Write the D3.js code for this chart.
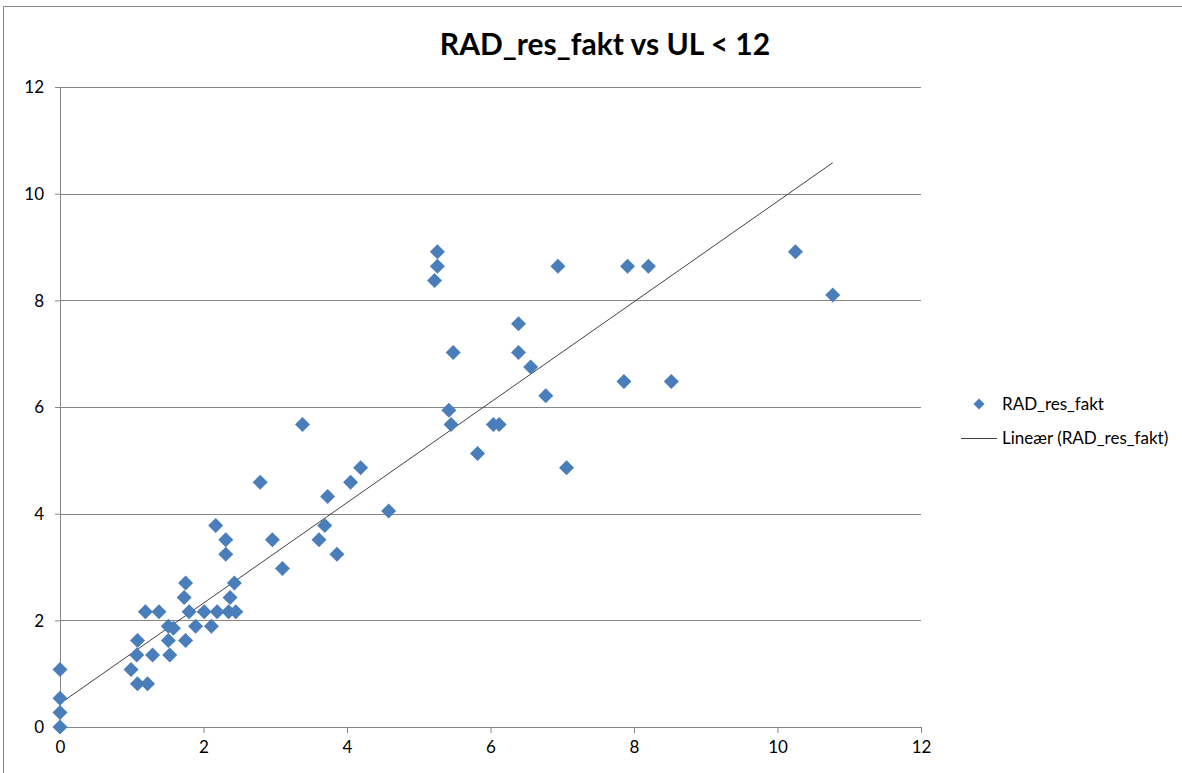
<!DOCTYPE html>
<html>
<head>
  <meta charset="utf-8">
  <title>RAD_res_fakt vs UL &lt; 12</title>
  <script src="https://d3js.org/d3.v7.min.js"></script>
  <style>
    body { margin: 0; background: #fff; }
    text { font-family: Lato, "Open Sans", sans-serif; fill: #000; }
  </style>
</head>
<body>
  <div id="chart"></div>
  <script>
    // Data (x = UL, y = RAD_res_fakt)
    const xValues = [0, 0, 0, 0,
      0.99, 1.08, 1.22, 1.07, 1.08, 1.29, 1.19, 1.38,
      1.53, 1.51, 1.51, 1.58, 1.75, 1.73, 1.75, 1.80, 1.89, 2.01, 2.11, 2.19,
      2.17, 2.35, 2.31, 2.31, 2.37, 2.45, 2.43,
      2.79, 2.96, 3.10, 3.38, 3.61, 3.69, 3.73, 3.86, 4.05, 4.19, 4.58,
      5.22, 5.26, 5.26, 5.42, 5.45, 5.48, 5.82, 6.04, 6.12, 6.39, 6.39,
      6.56, 6.77, 6.94, 7.06, 7.86, 7.91, 8.20, 8.52, 10.25, 10.77];
    const yValues = [0, 0.27, 0.54, 1.08,
      1.08, 0.81, 0.81, 1.35, 1.62, 1.35, 2.16, 2.16,
      1.35, 1.62, 1.89, 1.85, 1.62, 2.43, 2.70, 2.16, 1.89, 2.16, 1.89, 2.16,
      3.78, 2.16, 3.24, 3.51, 2.43, 2.16, 2.70,
      4.59, 3.51, 2.97, 5.67, 3.51, 3.78, 4.32, 3.24, 4.59, 4.86, 4.05,
      8.37, 8.64, 8.91, 5.94, 5.67, 7.02, 5.13, 5.67, 5.67, 7.56, 7.02,
      6.75, 6.21, 8.64, 4.86, 6.48, 8.64, 8.64, 6.48, 8.91, 8.10];
    // Excel linear trendline (intercept, slope)
    const trendIntercept = 0.44;
    const trendSlope = 0.9415;
    const xTicks = [0, 2, 4, 6, 8, 10, 12];
    const yTicks = [0, 2, 4, 6, 8, 10, 12];
    const title = "RAD_res_fakt vs UL < 12";
    const seriesName = "RAD_res_fakt";
    const trendName = "Lineær (RAD_res_fakt)";

    const data = xValues.map((x, i) => ({x: x, y: yValues[i]}));

    const W = 1182, H = 773;
    const margin = {top: 87, right: 261, bottom: 46, left: 60};
    const width = W - margin.left - margin.right;
    const height = H - margin.top - margin.bottom;

    const blue = "#4a7ebb";
    const grid = "#868686";

    const x = d3.scaleLinear().domain([0, 12]).range([0, width]);
    const y = d3.scaleLinear().domain([0, 12]).range([height, 0]);

    const root = d3.select("#chart").append("svg")
        .attr("width", W)
        .attr("height", H);

    // chart area border (left and top visible)
    root.append("path")
        .attr("d", `M3.5,${H} L3.5,6.5 L${W},6.5`)
        .attr("fill", "none")
        .attr("stroke", grid)
        .attr("stroke-width", 1);

    root.append("text")
        .attr("x", 605)
        .attr("y", 55)
        .attr("text-anchor", "middle")
        .style("font-size", "30px")
        .style("font-weight", "bold")
        .text(title);

    const svg = root.append("g")
        .attr("transform", `translate(${margin.left}, ${margin.top})`);

    // horizontal gridlines
    svg.append("g")
        .selectAll("line")
        .data(yTicks.filter(d => d > 0))
        .enter()
        .append("line")
        .attr("x1", 0)
        .attr("x2", width)
        .attr("y1", d => Math.round(y(d)) + 0.5)
        .attr("y2", d => Math.round(y(d)) + 0.5)
        .attr("stroke", grid);

    // axes
    const xAxis = d3.axisBottom(x).tickValues(xTicks).tickSize(6).tickPadding(8);
    const yAxis = d3.axisLeft(y).tickValues(yTicks).tickSize(5).tickPadding(11);

    const gx = svg.append("g")
        .attr("transform", `translate(0, ${height})`)
        .call(xAxis);
    const gy = svg.append("g").call(yAxis);

    [gx, gy].forEach(g => {
      g.select(".domain").attr("stroke", grid);
      g.selectAll(".tick line").attr("stroke", grid);
      g.selectAll(".tick text").style("font-size", "17px").style("fill", "#000")
          .attr("font-family", null);
    });
    gy.selectAll(".tick text").attr("dy", "0.35em");

    // linear trend over the data's x range
    const xr = d3.extent(data, d => d.x);
    const trend = d3.line().x(d => x(d)).y(d => y(trendIntercept + trendSlope * d));

    svg.append("path")
        .datum(xr)
        .attr("fill", "none")
        .attr("stroke", "#404040")
        .attr("stroke-width", 1)
        .attr("d", trend);

    const diamond = r => `M0,${-r}L${r},0L0,${r}L${-r},0Z`;

    svg.selectAll(".pt")
        .data(data)
        .enter()
        .append("path")
        .attr("class", "pt")
        .attr("d", diamond(7.5))
        .attr("transform", d => `translate(${x(d.x)}, ${y(d.y)})`)
        .attr("fill", blue);

    // legend
    const legend = root.append("g").attr("transform", "translate(979, 404)");
    legend.append("path").attr("d", diamond(5.5)).attr("fill", blue);
    legend.append("text").attr("x", 23).attr("y", 0).attr("dy", "0.35em")
        .style("font-size", "17px").text(seriesName);
    legend.append("line")
        .attr("x1", -18).attr("x2", 18).attr("y1", 34.5).attr("y2", 34.5)
        .attr("stroke", "#404040");
    legend.append("text").attr("x", 23).attr("y", 34).attr("dy", "0.35em")
        .style("font-size", "17px").text(trendName);
  </script>
</body>
</html>
